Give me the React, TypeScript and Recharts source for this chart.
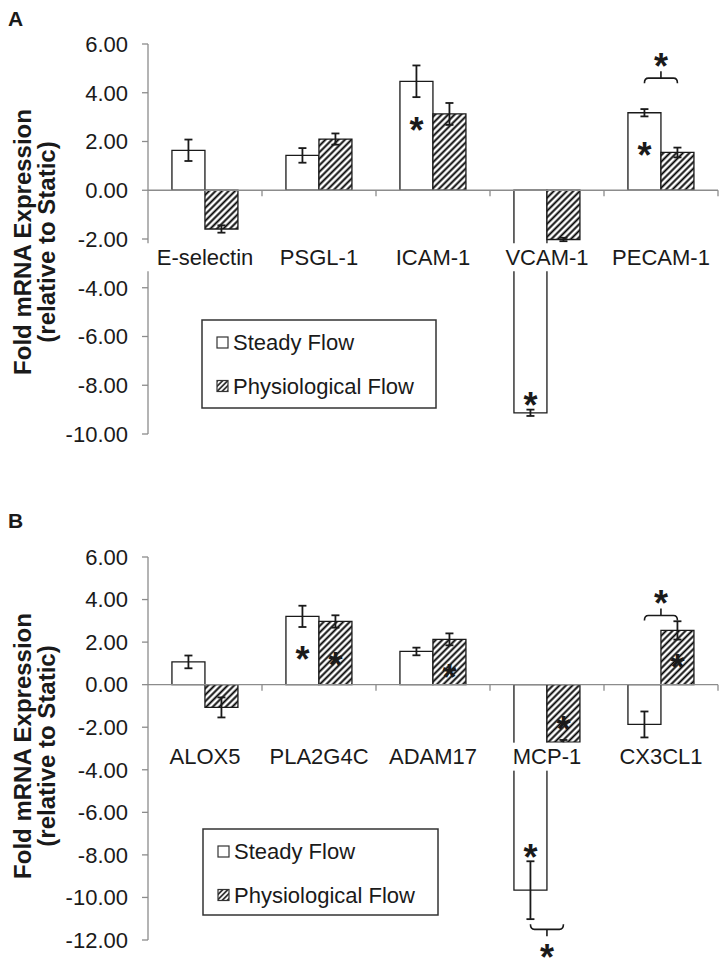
import React from 'react';
import { BarChart, Bar, XAxis, YAxis, ErrorBar, ReferenceLine, LabelList } from 'recharts';

const FONT = '"Liberation Sans", Arial, Helvetica, sans-serif';
const INK = '#1a1a1a';
const AXIS = '#8c8c8c';

const seriesNames = ['Steady Flow', 'Physiological Flow'];
const yTitleLines = ['Fold mRNA Expression', '(relative to Static)'];
const panelLetters = ['A', 'B'];

// ---------- Panel A ----------
const categoriesA = ['E-selectin', 'PSGL-1', 'ICAM-1', 'VCAM-1', 'PECAM-1'];
const steadyA = [1.64, 1.43, 4.47, -9.13, 3.18];
const steadyErrA = [0.44, 0.3, 0.65, 0.13, 0.15];
const physioA = [-1.59, 2.1, 3.13, -2.02, 1.55];
const physioErrA = [0.15, 0.23, 0.45, 0.07, 0.2];
const steadyStarA = [null, null, 2.8, -8.47, 1.77];
const physioStarA = [null, null, null, null, null];
const bracketA = [null, null, null, null, 4.6];
const yTicksA = [-10, -8, -6, -4, -2, 0, 2, 4, 6];

// ---------- Panel B ----------
const categoriesB = ['ALOX5', 'PLA2G4C', 'ADAM17', 'MCP-1', 'CX3CL1'];
const steadyB = [1.07, 3.21, 1.56, -9.66, -1.87];
const steadyErrB = [0.3, 0.5, 0.18, 1.36, 0.61];
const physioB = [-1.07, 2.97, 2.13, -2.7, 2.55];
const physioErrB = [0.47, 0.29, 0.28, 0.1, 0.43];
const steadyStarB = [null, 1.6, null, -7.73, null];
const physioStarB = [null, 1.31, 0.71, -1.72, 1.18];
const bracketB = [null, null, null, -11.5, 3.25];
const yTicksB = [-12, -10, -8, -6, -4, -2, 0, 2, 4, 6];

function buildRows(
  cats: string[], s: number[], se: number[], p: number[], pe: number[],
  ss: (number | null)[], ps: (number | null)[], br: (number | null)[]
) {
  return cats.map((c, i) => ({
    cat: c, steady: s[i], steadyErr: se[i], physio: p[i], physioErr: pe[i],
    steadyStar: ss[i], physioStar: ps[i], bracket: br[i],
  }));
}

const rowsA = buildRows(categoriesA, steadyA, steadyErrA, physioA, physioErrA, steadyStarA, physioStarA, bracketA);
const rowsB = buildRows(categoriesB, steadyB, steadyErrB, physioB, physioErrB, steadyStarB, physioStarB, bracketB);

const STAR_FS = 36;

function Star({ cx, cy }: { cx: number; cy: number }) {
  return (
    <text x={cx} y={cy + 0.58 * STAR_FS} textAnchor="middle" fontSize={STAR_FS}
      fontWeight="bold" fontFamily={FONT} fill={INK}>*</text>
  );
}

// map a value to pixels using the bar's own rectangle (drawn by the library's scale)
function valueToY(vb: any, barValue: number, v: number) {
  const top = Math.min(vb.y, vb.y + vb.height);
  const bottom = Math.max(vb.y, vb.y + vb.height);
  const ppu = (bottom - top) / Math.abs(barValue);
  const zero = barValue >= 0 ? bottom : top;
  return zero - v * ppu;
}

const makeStarContent = (barValues: number[]) => (props: any) => {
  const { index, value } = props;
  if (value === null || value === undefined) return <g />;
  const vb = props.viewBox || props;
  const cy = valueToY(vb, barValues[index], value);
  return <Star cx={vb.x + vb.width / 2} cy={cy} />;
};

const makeBracketContent = (barValues: number[]) => (props: any) => {
  const { index, value } = props;
  if (value === null || value === undefined) return <g />;
  const vb = props.viewBox || props;
  const by = valueToY(vb, barValues[index], value);
  const d = value >= 0 ? 1 : -1; // 1: bracket above bars (ends point down)
  const x1 = vb.x - vb.width / 2;
  const x2 = vb.x + vb.width / 2;
  const xm = (x1 + x2) / 2;
  const path = `M ${x1} ${by + 5 * d} Q ${x1} ${by} ${x1 + 4} ${by} L ${x2 - 4} ${by} Q ${x2} ${by} ${x2} ${by + 5 * d} M ${xm} ${by} L ${xm} ${by - 7 * d}`;
  return (
    <g>
      <path d={path} fill="none" stroke={INK} strokeWidth={1.6} />
      <Star cx={xm} cy={by - 20 * d} />
    </g>
  );
};

const makeZeroAxis = (cats: string[], labelOffset: number) => (props: any) => {
  const xl = Math.min(props.x1, props.x2);
  const xr = Math.max(props.x1, props.x2);
  const y0 = props.y1;
  const band = (xr - xl) / cats.length;
  return (
    <g>
      <line x1={xl} y1={y0} x2={xr} y2={y0} stroke={AXIS} strokeWidth={1.3} />
      {cats.map((_, i) => (
        <line key={'t' + i} x1={xl + band * (i + 1)} x2={xl + band * (i + 1)} y1={y0} y2={y0 + 6}
          stroke={AXIS} strokeWidth={1.3} />
      ))}
      {cats.map((c, i) => {
        const cx = xl + band * (i + 0.5);
        const w = c.length * 12.5 + 6;
        return (
          <g key={'l' + i}>
            <rect x={cx - w / 2} y={y0 + labelOffset - 14} width={w} height={28} fill="#fff" />
            <text x={cx} y={y0 + labelOffset} dy="0.355em" textAnchor="middle" fontSize={22}
              fontFamily={FONT} fill={INK}>{c}</text>
          </g>
        );
      })}
    </g>
  );
};

function Panel({ rows, cats, steady, physio, ticks, height, top, labelOffset }: any) {
  return (
    <div style={{ position: 'absolute', left: 0, top, width: 725, height }}>
      <BarChart width={725} height={height} data={rows}
        margin={{ top: top === 0 ? 44 : 57, right: 7, bottom: top === 0 ? 36 : 22, left: 0 }}
        barCategoryGap="21%" barGap={0}>
        <XAxis dataKey="cat" hide />
        <YAxis domain={[ticks[0], ticks[ticks.length - 1]]} ticks={ticks} interval={0}
          allowDataOverflow width={148} tickSize={6} tickMargin={14}
          tickFormatter={(v: number) => v.toFixed(2)}
          tick={{ fontSize: 22, fill: INK, fontFamily: FONT }}
          axisLine={{ stroke: AXIS, strokeWidth: 1.3 }} tickLine={{ stroke: AXIS, strokeWidth: 1.3 }} />
        <Bar dataKey="steady" name={seriesNames[0]} fill="#ffffff" stroke={INK} strokeWidth={1.3}
          isAnimationActive={false}>
          <ErrorBar dataKey="steadyErr" width={4} strokeWidth={1.8} stroke={INK} direction="y" />
          <LabelList dataKey="steadyStar" content={makeStarContent(steady)} />
        </Bar>
        <Bar dataKey="physio" name={seriesNames[1]} fill="url(#hatch)" stroke={INK} strokeWidth={1.3}
          isAnimationActive={false}>
          <ErrorBar dataKey="physioErr" width={4} strokeWidth={1.8} stroke={INK} direction="y" />
          <LabelList dataKey="physioStar" content={makeStarContent(physio)} />
          <LabelList dataKey="bracket" content={makeBracketContent(physio)} />
        </Bar>
        <ReferenceLine y={0} zIndex={1500} shape={makeZeroAxis(cats, labelOffset)} />
      </BarChart>
    </div>
  );
}

function LegendBox({ x, y, w, h }: { x: number; y: number; w: number; h: number }) {
  return (
    <g>
      <rect x={x} y={y} width={w} height={h} fill="#fff" stroke="#333" strokeWidth={1.5} />
      {seriesNames.map((n, i) => {
        const cy = y + 22.5 + i * 43.5;
        return (
          <g key={n}>
            <rect x={x + 15} y={cy - 5.5} width={11} height={11} fill={i === 0 ? '#fff' : 'url(#hatchSmall)'}
              stroke="#333" strokeWidth={1.2} />
            <text x={x + 31} y={cy} dy="0.355em" fontSize={22} fontFamily={FONT} fill={INK}>{n}</text>
          </g>
        );
      })}
    </g>
  );
}

function YTitle({ cy }: { cy: number }) {
  return (
    <text transform={`translate(23, ${cy}) rotate(-90)`} textAnchor="middle" fontSize={24}
      fontWeight="bold" fontFamily={FONT} fill={INK}>
      <tspan x={0} y={0} dy="0.35em">{yTitleLines[0]}</tspan>
      <tspan x={0} y={24} dy="0.35em">{yTitleLines[1]}</tspan>
    </text>
  );
}

export default function App() {
  return (
    <div style={{ position: 'absolute', left: 0, top: 0, width: 725, height: 962, background: '#fff', fontFamily: FONT }}>
      <svg width={0} height={0} style={{ position: 'absolute' }}>
        <defs>
          <pattern id="hatch" patternUnits="userSpaceOnUse" width={4.6} height={4.6} patternTransform="rotate(45)">
            <rect width={4.6} height={4.6} fill="#fff" />
            <line x1={2.3} y1={0} x2={2.3} y2={4.6} stroke="#000" strokeWidth={1.9} />
          </pattern>
          <pattern id="hatchSmall" patternUnits="userSpaceOnUse" width={3.6} height={3.6} patternTransform="rotate(45)">
            <rect width={3.6} height={3.6} fill="#fff" />
            <line x1={1.8} y1={0} x2={1.8} y2={3.6} stroke="#000" strokeWidth={1.4} />
          </pattern>
        </defs>
      </svg>
      <Panel rows={rowsA} cats={categoriesA} steady={steadyA} physio={physioA} ticks={yTicksA}
        height={470} top={0} labelOffset={67} />
      <Panel rows={rowsB} cats={categoriesB} steady={steadyB} physio={physioB} ticks={yTicksB}
        height={462} top={500} labelOffset={72} />
      <svg width={725} height={962} style={{ position: 'absolute', left: 0, top: 0, pointerEvents: 'none' }}>
        <text x={8} y={26} fontSize={21} fontWeight="bold" fontFamily={FONT} fill={INK}>{panelLetters[0]}</text>
        <text x={8} y={528} fontSize={21} fontWeight="bold" fontFamily={FONT} fill={INK}>{panelLetters[1]}</text>
        <YTitle cy={242} />
        <YTitle cy={746} />
        <LegendBox x={202} y={320} w={234} h={88} />
        <LegendBox x={203} y={829} w={235} h={86} />
      </svg>
    </div>
  );
}
